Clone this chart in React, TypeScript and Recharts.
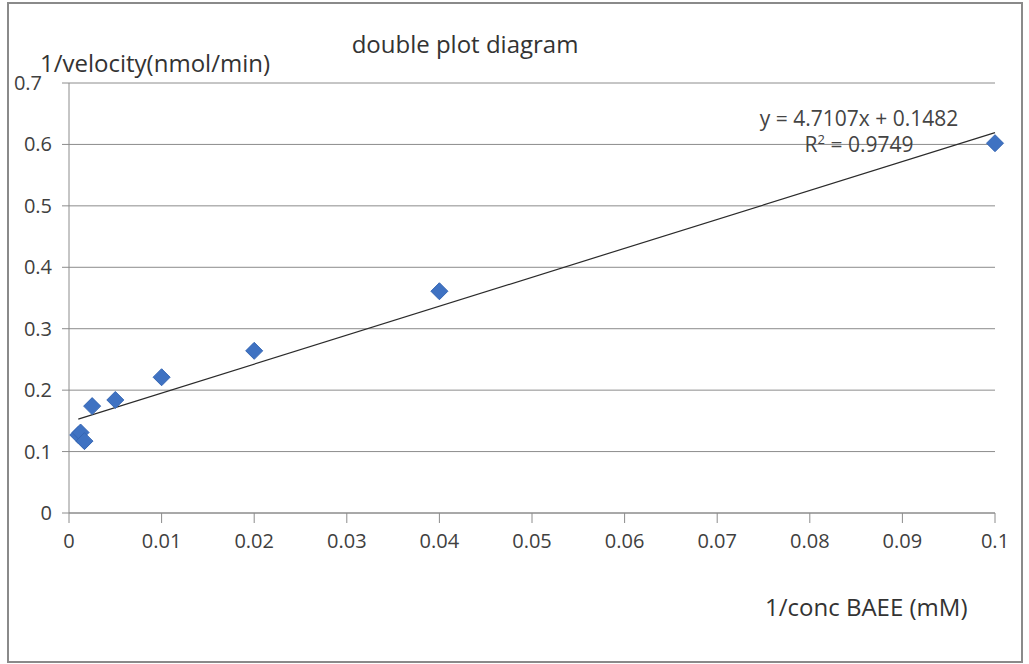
import { ScatterChart, Scatter, XAxis, YAxis, CartesianGrid, ReferenceLine } from 'recharts';

// 1/[S] (1/mM) and 1/v
const invConc = [0.001, 0.00125, 0.00167, 0.0025, 0.005, 0.01, 0.02, 0.04, 0.1];
const invVelocity = [0.127, 0.131, 0.117, 0.174, 0.184, 0.221, 0.264, 0.361, 0.602];

const xTicks = [0, 0.01, 0.02, 0.03, 0.04, 0.05, 0.06, 0.07, 0.08, 0.09, 0.1];
const yTicks = [0, 0.1, 0.2, 0.3, 0.4, 0.5, 0.6, 0.7];

// linear trendline shown in the chart label
const slope = 4.7107;
const intercept = 0.1482;
const rSquared = 0.9749;

const points = invConc.map((x, i) => ({ x, y: invVelocity[i] }));
const xMin = Math.min(...invConc);
const xMax = Math.max(...invConc);

const FONT = '"Open Sans", "Liberation Sans", sans-serif';

function Diamond(props: any) {
  const { cx, cy } = props;
  const r = 8.5;
  return (
    <polygon
      points={`${cx},${cy - r} ${cx + r},${cy} ${cx},${cy + r} ${cx - r},${cy}`}
      fill="#3f72c2"
      stroke="#3566b4"
      strokeWidth={1}
    />
  );
}

// top label sits further left in the original
function YTick(props: any) {
  const { x, y, payload, index } = props;
  const shift = index === yTicks.length - 1 ? -10 : 0;
  return (
    <text x={x + shift} y={y} dy="0.35em" textAnchor="end" fontSize={20} fill="#404040" fontFamily={FONT}>
      {payload.value}
    </text>
  );
}

export default function App() {
  const eqStyle = {
    position: 'absolute' as const,
    left: 729,
    width: 260,
    textAlign: 'center' as const,
    fontSize: 21,
    lineHeight: '22px',
    color: '#444',
  };
  return (
    <div style={{ position: 'absolute', left: 0, top: 0, width: 1029, height: 664, background: '#fff', fontFamily: FONT }}>
      <div style={{ position: 'absolute', left: 7, top: 2, width: 1012, height: 657, border: '2px solid #8a8a8a' }} />
      <ScatterChart width={1029} height={664} margin={{ top: 83, right: 34, bottom: 101, left: 0 }}>
        <CartesianGrid horizontal vertical={false} stroke="#8c8c8c" strokeWidth={1} />
        <XAxis
          type="number"
          dataKey="x"
          domain={[0, 0.1]}
          ticks={xTicks}
          height={50}
          tickSize={10}
          tickMargin={11}
          stroke="#8c8c8c"
          tick={{ fontSize: 20, fill: '#404040', fontFamily: FONT }}
          interval={0}
        />
        <YAxis
          type="number"
          dataKey="y"
          domain={[0, 0.7]}
          ticks={yTicks}
          width={69}
          tickSize={7}
          tickMargin={10}
          stroke="#8c8c8c"
          tick={<YTick />}
          interval={0}
        />
        <ReferenceLine
          segment={[
            { x: xMin, y: slope * xMin + intercept },
            { x: xMax, y: slope * xMax + intercept },
          ]}
          stroke="#2b2b2b"
          strokeWidth={1.2}
          ifOverflow="visible"
        />
        <Scatter data={points} shape={<Diamond />} isAnimationActive={false} />
      </ScatterChart>
      <div style={{ position: 'absolute', left: 0, width: 930, top: 27, textAlign: 'center', fontSize: 24, color: '#333' }}>
        double plot diagram
      </div>
      <div style={{ position: 'absolute', left: 40, top: 46, fontSize: 24, color: '#333' }}>1/velocity(nmol/min)</div>
      <div style={{ position: 'absolute', left: 765, top: 590, fontSize: 24, color: '#333' }}>1/conc BAEE (mM)</div>
      <div style={{ ...eqStyle, top: 107 }}>
        y = {slope}x + {intercept}
      </div>
      <div style={{ ...eqStyle, top: 133 }}>
        R<sup style={{ fontSize: 13, lineHeight: 0 }}>2</sup> = {rSquared}
      </div>
    </div>
  );
}
